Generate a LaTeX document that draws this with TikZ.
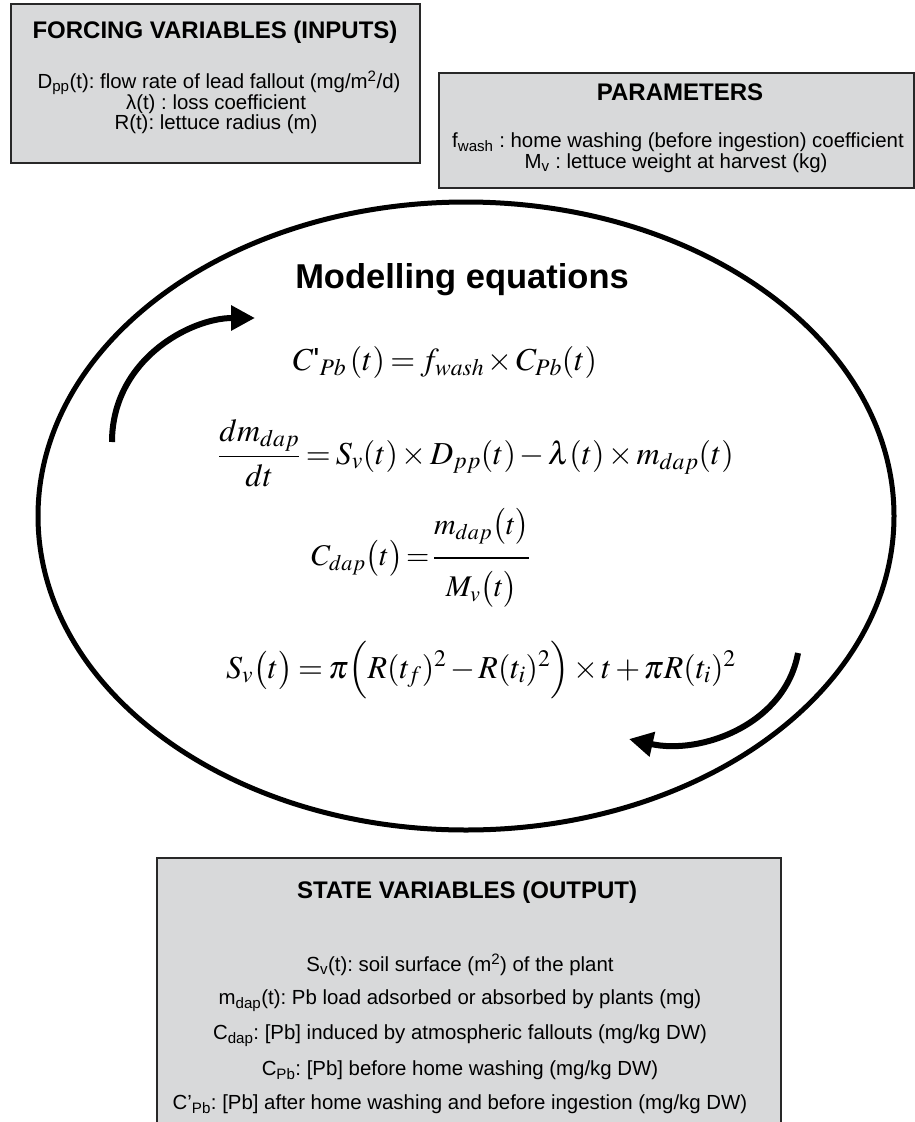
\documentclass[tikz,border=0pt]{standalone}
\usepackage{amsmath}
\usepackage{mathptmx}
\usepackage[no-math]{fontspec}
\setmainfont{Liberation Sans}
\usetikzlibrary{arrows.meta}
\frenchspacing
\thickmuskip=3mu plus 1mu
\medmuskip=2mu plus 1mu
\definecolor{boxfill}{RGB}{216,217,218}
\definecolor{boxline}{RGB}{40,40,40}
\tikzset{
  panel/.style={draw=boxline, line width=2pt, fill=boxfill, inner sep=0pt, anchor=north west},
  ttl/.style={font=\fontsize{24}{28}\selectfont\bfseries, inner sep=0pt},
  body/.style={font=\fontsize{20.4}{24}\selectfont, inner sep=0pt},
  eqn/.style={font=\fontsize{32}{38}\selectfont, inner sep=0pt},
  loop/.style={line width=6pt, -{Triangle[length=24pt,width=24pt]}},
}
\begin{document}
\begin{tikzpicture}[x=1pt,y=-1pt]
\useasboundingbox (0,0) rectangle (914,1122);
% forcing box
\node[panel, minimum width=409pt, minimum height=159pt] (forcing) at (10,3) {};
\node[ttl] (ftitle) at (215,32) {FORCING VARIABLES (INPUTS)};
\node[body] (f1) at (219,83) {D\textsubscript{pp}(t): flow rate of lead fallout (mg/m\textsuperscript{2}/d)};
\node[body] (f2) at (216,104) {λ(t) : loss coefficient};
\node[body] (f3) at (216,124) {R(t): lettuce radius (m)};
% parameters box
\node[panel, minimum width=475pt, minimum height=115pt] (params) at (438,72) {};
\node[ttl] (ptitle) at (680,92) {PARAMETERS};
\node[body] (p1) at (678,142) {f\textsubscript{wash} : home washing (before ingestion) coefficient};
\node[body] (p2) at (676,163) {M\textsubscript{v} : lettuce weight at harvest (kg)};
% ellipse
\draw[line width=5pt] (466,516) ellipse [x radius=428, y radius=314];
\node[font=\fontsize{34.5}{40}\selectfont\bfseries, inner sep=0pt] (mtitle) at (462,280) {Modelling equations};
\node[eqn] (e1) at (445,362) {$C\text{\rmfamily\textquotesingle}_{Pb}\,(t) = f_{wash}\times C_{Pb}(t)$};
\node[eqn] (e2) at (476,453) {$\dfrac{dm_{dap}}{dt} = S_v(t)\times D_{pp}(t) - \lambda(t)\times m_{dap}(t)$};
\node[eqn, font=\fontsize{30}{36}\selectfont] (e3) at (421,558) {$\thickmuskip=2mu C_{dap}\bigl(t\bigr) = \dfrac{m_{dap}\bigl(t\bigr)\vphantom{\Big(}}{M_v\bigl(t\bigr)\vphantom{\Big(}}$};
\node[eqn] (e4) at (481,670) {$S_v\bigl(t\bigr) = \pi\Bigl(R(t_f)^2 - R(t_i)^2\Bigr)\times t + \pi R(t_i)^2$};
% loop arrows
\coordinate (la) at (112,442);
\coordinate (lb) at (255,318);
\draw[loop] (la) .. controls (112,360) and (190,318) .. (lb);
\coordinate (ra) at (798,653);
\coordinate (rb) at (629,739);
\draw[loop] (ra) .. controls (785,725) and (700,755) .. (rb);
% state box
\node[panel, minimum width=624pt, minimum height=280pt] (state) at (156,857) {};
\node[ttl] (stitle) at (467,892) {STATE VARIABLES (OUTPUT)};
\node[body] (s1) at (460,965) {S\textsubscript{v}(t): soil surface (m\textsuperscript{2}) of the plant};
\node[body] (s2) at (460,1001) {m\textsubscript{dap}(t): Pb load adsorbed or absorbed by plants (mg)};
\node[body] (s3) at (460,1036) {C\textsubscript{dap}: [Pb] induced by atmospheric fallouts (mg/kg DW)};
\node[body] (s4) at (460,1070) {C\textsubscript{Pb}: [Pb] before home washing (mg/kg DW)};
\node[body] (s5) at (460,1104) {C’\textsubscript{Pb}: [Pb] after home washing and before ingestion (mg/kg DW)};
\end{tikzpicture}
\end{document}
